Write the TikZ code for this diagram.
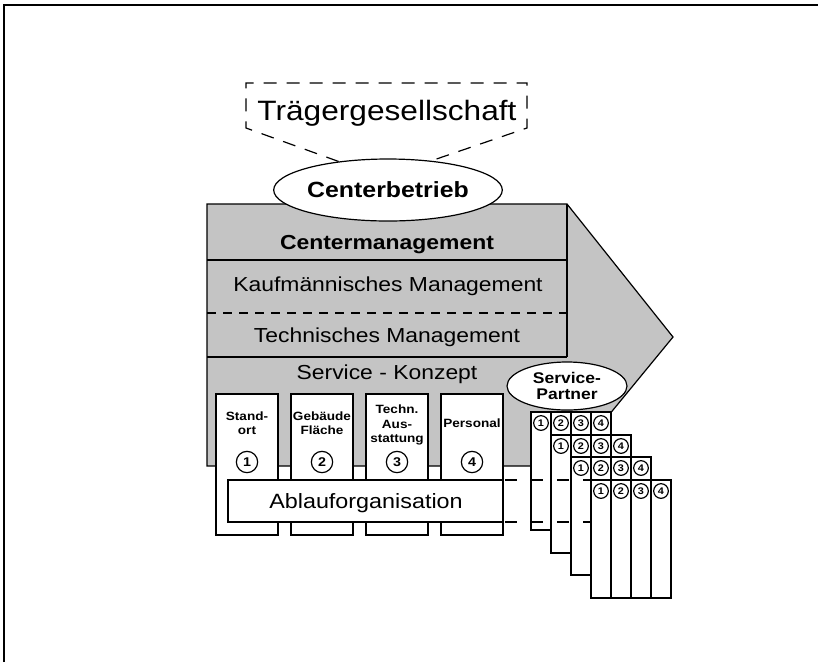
\documentclass[tikz,border=0pt]{standalone}
\usepackage{fontspec}
\setmainfont{Liberation Sans}[FakeStretch=1.13]
\usetikzlibrary{shapes.geometric}

\definecolor{raster}{gray}{0.77}
\tikzset{every picture/.style={line width=0.9pt}}
\tikzset{
  layertext/.style={anchor=base, font=\fontsize{15.2}{18}\selectfont},
  boxlabel/.style={align=center, font=\bfseries\fontsize{9}{10.8}\selectfont},
  nr/.style={circle, draw, fill=white, inner sep=0pt, minimum size=16pt, font=\bfseries\fontsize{9.5}{10}\selectfont},
  knr/.style={circle, draw, fill=white, inner sep=0pt, minimum size=11pt, font=\bfseries\fontsize{7.2}{8}\selectfont},
}

\begin{document}
\begin{tikzpicture}[x=0.75pt,y=0.75pt,yscale=-1,xscale=1]
\useasboundingbox (0,0) rectangle (818,662);

%Frame
\draw [line width=1.5pt] (4,662) -- (4,5) -- (818,5) ;

% Text Node
\node [anchor=base, font=\fontsize{21}{25}\selectfont] (traeger) at (387,120) {Trägergesellschaft};

%Shape: Arrow
\draw [fill=raster] (207,204) -- (567,204) -- (673,337) -- (567,466) -- (207,466) -- cycle ;
%Straight Lines
\draw (567,204) -- (567,357) ;
\draw (207,260) -- (567,260) ;
\draw [dash pattern=on 6.5pt off 5.5pt] (207,313) -- (567,313) ;
\draw (207,357) -- (567,357) ;

% Text Node
\node [layertext, font=\bfseries\fontsize{15.2}{18}\selectfont] (cm) at (387,249) {Centermanagement};
\node [layertext] (km) at (388,291) {Kaufmännisches Management};
\node [layertext] (tm) at (387,342) {Technisches Management};
\node [layertext] (sk) at (387,379) {Service - Konzept};

%Shape: Ellipse
\node [ellipse, draw, fill=white, inner sep=0pt, minimum width=154.5pt, minimum height=46.5pt, font=\bfseries\fontsize{16.5}{19}\selectfont] (betrieb) at (388,190) {Centerbetrieb};

%Dashed outline
\coordinate (tl) at (246,83);
\coordinate (bl) at (246,128);
\coordinate (tr) at (527,83);
\coordinate (br) at (527,128);
\draw [dash pattern=on 9.75pt off 7.5pt] (betrieb.150) -- (bl) -- (tl) -- (tr) -- (br) -- (betrieb.34) ;

%Shape: Rectangle
\draw [fill=white] (216,394) rectangle (278,535) ;
\draw [fill=white] (291,394) rectangle (353,535) ;
\draw [fill=white] (366,394) rectangle (428,535) ;
\draw [fill=white] (441,394) rectangle (503,535) ;

% Text Node
\node [boxlabel] (standort) at (247,423) {Stand-\\ort};
\node [boxlabel] (gebaeude) at (322,423) {Gebäude\\Fläche};
\node [boxlabel] (technik) at (397,425) {Techn.\\Aus-\\stattung};
\node [boxlabel, anchor=base] (personal) at (472,427) {Personal};
\node [nr] (n1) at (247,462) {1};
\node [nr] (n2) at (322,462) {2};
\node [nr] (n3) at (397,462) {3};
\node [nr] (n4) at (472,462) {4};

%Shape: Rectangle
\draw [fill=white] (228,480) rectangle (503,522) ;
% Text Node
\node [anchor=base, font=\fontsize{15.5}{18}\selectfont] (ablauf) at (366,508) {Ablauforganisation};

%Shape: Ellipse
\node [ellipse, draw, fill=white, inner sep=0pt, minimum width=90pt, minimum height=36pt, align=center, font=\bfseries\fontsize{11.6}{12}\selectfont] (partner) at (567,386) {Service-\\Partner};

%Card 1
\draw [fill=white] (531,412) rectangle (611,530) ;
\draw (551,412) -- (551,530) (571,412) -- (571,530) (591,412) -- (591,530) ;
\node [knr] (a1) at (541,423) {1};
\node [knr] (a2) at (561,423) {2};
\node [knr] (a3) at (581,423) {3};
\node [knr] (a4) at (601,423) {4};
%Card 2
\draw [fill=white] (551,435) rectangle (631,553) ;
\draw (571,435) -- (571,553) (591,435) -- (591,553) (611,435) -- (611,553) ;
\node [knr] (b1) at (561,446) {1};
\node [knr] (b2) at (581,446) {2};
\node [knr] (b3) at (601,446) {3};
\node [knr] (b4) at (621,446) {4};
%Card 3
\draw [fill=white] (571,457) rectangle (651,575) ;
\draw (591,457) -- (591,575) (611,457) -- (611,575) (631,457) -- (631,575) ;
\node [knr] (c1) at (581,468) {1};
\node [knr] (c2) at (601,468) {2};
\node [knr] (c3) at (621,468) {3};
\node [knr] (c4) at (641,468) {4};

%Straight Lines
\draw [dash pattern=on 9pt off 10.5pt] (505,480) -- (591,480) ;
\draw [dash pattern=on 9pt off 10.5pt] (505,522) -- (591,522) ;

%Card 4
\draw [fill=white] (591,480) rectangle (671,598) ;
\draw (611,480) -- (611,598) (631,480) -- (631,598) (651,480) -- (651,598) ;
\node [knr] (d1) at (601,491) {1};
\node [knr] (d2) at (621,491) {2};
\node [knr] (d3) at (641,491) {3};
\node [knr] (d4) at (661,491) {4};

\end{tikzpicture}
\end{document}
